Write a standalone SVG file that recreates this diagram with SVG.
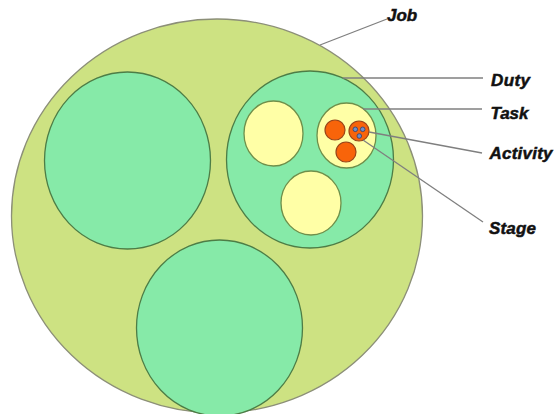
<svg xmlns="http://www.w3.org/2000/svg" width="555" height="414" viewBox="0 0 555 414">
<style>
.job{fill:#cde282;stroke:#8c8f78;stroke-width:1.3}
.duty{fill:#86eaa8;stroke:#4d7d46;stroke-width:1.3}
.task{fill:#ffffa6;stroke:#6f8f4a;stroke-width:1.3}
.act{fill:#f8640a;stroke:#9a4418;stroke-width:1.2}
.stage{fill:#6f8fc8;stroke:#2f3f70;stroke-width:0.8}
.lbl{font-family:"Liberation Sans",Arial,sans-serif;font-weight:bold;font-style:italic;font-size:17px;fill:#111;stroke:#111;stroke-width:0.5}
.con{stroke:#7f7f7f;stroke-width:1.3;fill:none}
</style>
<rect width="555" height="414" fill="#fff"/>
<g id="job"><ellipse class="job" cx="217" cy="216" rx="205.5" ry="197"/></g>
<g id="duty-left"><ellipse class="duty" cx="127.5" cy="160.5" rx="83" ry="88.5"/></g>
<g id="duty"><ellipse class="duty" cx="310" cy="159.5" rx="83.5" ry="88.5"/></g>
<g id="duty-bottom"><ellipse class="duty" cx="219.5" cy="328" rx="83" ry="88"/></g>
<g id="task-left"><ellipse class="task" cx="273.5" cy="133.5" rx="29.5" ry="32.5"/></g>
<g id="task-bottom"><ellipse class="task" cx="311" cy="203" rx="30" ry="32"/></g>
<g id="task"><ellipse class="task" cx="346.5" cy="135.5" rx="29.5" ry="32.5"/></g>
<g id="activity-left"><circle class="act" cx="335" cy="130" r="10"/></g>
<g id="activity-bottom"><circle class="act" cx="346" cy="152" r="10"/></g>
<g id="activity"><circle class="act" cx="359" cy="131" r="10"/></g>
<g id="stage1"><circle class="stage" cx="355.3" cy="129.3" r="2.3"/></g>
<g id="stage2"><circle class="stage" cx="362.7" cy="129.3" r="2.3"/></g>
<g id="stage3"><circle class="stage" cx="359.3" cy="136" r="2.3"/></g>
<g id="connectors">
<line class="con" x1="320" y1="45" x2="387" y2="19"/>
<line class="con" x1="343" y1="78" x2="483" y2="78"/>
<line class="con" x1="363" y1="109" x2="482" y2="109"/>
<line class="con" x1="369" y1="132" x2="482" y2="153"/>
<line class="con" x1="363" y1="140" x2="483" y2="222"/>
</g>
<g id="labels">
<text class="lbl" x="387" y="21">Job</text>
<text class="lbl" x="491" y="85.5" textLength="39">Duty</text>
<text class="lbl" x="490.5" y="118.5" textLength="38">Task</text>
<text class="lbl" x="489.5" y="158.5" textLength="63">Activity</text>
<text class="lbl" x="489" y="233.5" textLength="47">Stage</text>
</g>
</svg>
